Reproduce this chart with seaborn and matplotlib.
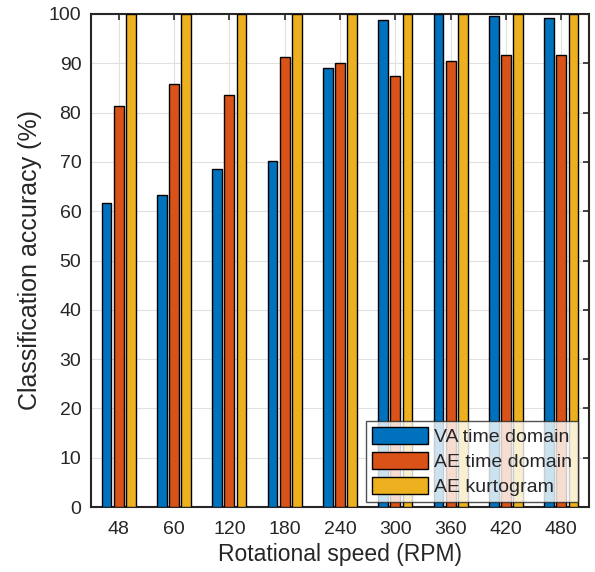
import numpy as np
import pandas as pd
import matplotlib
matplotlib.use("Agg")
import matplotlib.pyplot as plt
import seaborn as sns

speeds = ["48", "60", "120", "180", "240", "300", "360", "420", "480"]
va_time = [61.7, 63.2, 68.5, 70.1, 89.1, 98.8, 100.0, 99.5, 99.2]
ae_time = [81.3, 85.7, 83.5, 91.3, 90.1, 87.5, 90.5, 91.7, 91.6]
ae_kurt = [100.0, 100.0, 100.0, 100.0, 100.0, 100.0, 100.0, 100.0, 100.0]
series = ["VA time domain", "AE time domain", "AE kurtogram"]
colors = ["#0072BD", "#D95319", "#EDB120"]

df = pd.DataFrame({
    "speed": speeds * 3,
    "acc": va_time + ae_time + ae_kurt,
    "method": [s for s in series for _ in speeds],
})

sns.set_style("white")
plt.rcParams["font.family"] = ["Liberation Sans", "DejaVu Sans"]

fig = plt.figure(figsize=(5.95, 5.72), dpi=100)
ax = fig.add_axes([91 / 595, 1 - 507 / 572, 498 / 595, 493 / 572])

sns.barplot(data=df, x="speed", y="acc", hue="method", palette=colors,
            width=0.66, gap=0.18, edgecolor="black", linewidth=1.0,
            saturation=1, ax=ax, zorder=3)

ax.set_ylim(0, 100)
ax.set_xlim(-0.5, 8.5)
ax.set_yticks(np.arange(0, 101, 10))
ax.grid(True, color="#e0e0e0", linewidth=0.8, zorder=0)
ax.set_axisbelow(True)
ax.tick_params(direction="in", top=True, right=True, length=4, width=1.2,
               labelsize=14, colors="#262626")
ax.tick_params(axis="x", pad=10)
ax.tick_params(axis="y", pad=7)
for sp in ax.spines.values():
    sp.set_color("#262626")
    sp.set_linewidth(1.5)

ax.set_xlabel("Rotational speed (RPM)", fontsize=16.5, color="#262626", labelpad=4)
ax.set_ylabel("Classification accuracy (%)", fontsize=18, color="#262626", labelpad=5)

leg = ax.legend(loc="lower right", bbox_to_anchor=(578 / 595, 1 - 502 / 572),
                bbox_transform=fig.transFigure, fontsize=14, frameon=True,
                fancybox=False, edgecolor="#262626", handlelength=2.9,
                handleheight=0.95, borderaxespad=0, borderpad=0.3,
                labelspacing=0.3, handletextpad=0.3)
leg.get_frame().set_linewidth(1.0)

fig.savefig("out.png", dpi=100)
